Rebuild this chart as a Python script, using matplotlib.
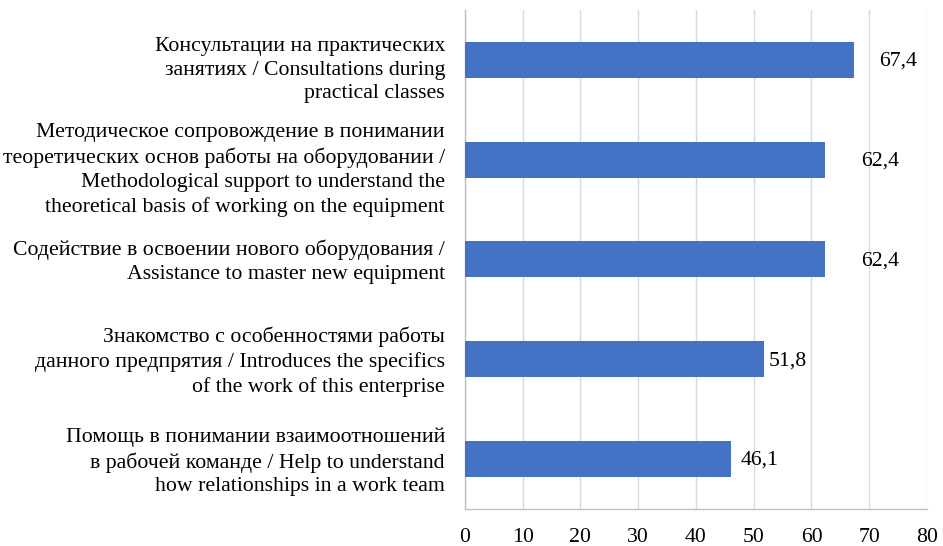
import matplotlib.pyplot as plt

# data (top to bottom)
labels = [
    "Консультации на практических\nзанятиях / Consultations during\npractical classes",
    "Методическое сопровождение в понимании\nтеоретических основ работы на оборудовании /\nMethodological support to understand the\ntheoretical basis of working on the equipment",
    "Содействие в освоении нового оборудования /\nAssistance to master new equipment",
    "Знакомство с особенностями работы\nданного предпрятия / Introduces the specifics\nof the work of this enterprise",
    "Помощь в понимании взаимоотношений\nв рабочей команде / Help to understand\nhow relationships in a work team",
]
values = [67.4, 62.4, 62.4, 51.8, 46.1]
value_text = ["67,4", "62,4", "62,4", "51,8", "46,1"]
label_pad = [18, 26, 26, 3, 6.5]          # points, as placed in the original
label_shift = [-7.5, -7.5, -2, -2, -2]    # vertical nudge of category labels, points

plt.rcParams['font.family'] = ['Liberation Serif', 'DejaVu Serif']
fs = 15.7

fig = plt.figure(figsize=(9.43, 5.46), dpi=100)
ax = fig.add_axes([0.493, 0.068, 0.490, 0.914])

ypos = list(range(len(values)))
ax.barh(ypos, values, height=0.36, color='#4472C4', zorder=3)
for y, v, t, p in zip(ypos, values, value_text, label_pad):
    ax.annotate(t, (v, y), xytext=(p, -1), textcoords='offset points',
                va='center', ha='left', fontsize=fs, color='black')

# category labels
for y, lab, dy in zip(ypos, labels, label_shift):
    ax.annotate(lab, (0, y), xycoords=('axes fraction', 'data'),
                xytext=(-14.4, dy), textcoords='offset points',
                ha='right', va='center', multialignment='right',
                fontsize=fs, linespacing=1.34, annotation_clip=False)

ax.set_ylim(len(values) - 0.5, -0.5)
ax.set_xlim(0, 80)
ax.set_xticks(range(0, 81, 10))
ax.set_yticks(ypos)
ax.set_yticklabels([])
ax.tick_params(axis='x', labelsize=fs, length=0, pad=14)
ax.tick_params(axis='y', length=0)
ax.grid(axis='x', color='#D9D9D9', linewidth=1, zorder=0)
for s in ['top', 'right']:
    ax.spines[s].set_visible(False)
for s in ['left', 'bottom']:
    ax.spines[s].set_color('#BFBFBF')
    ax.spines[s].set_linewidth(1)

fig.savefig('out.png', dpi=100)
